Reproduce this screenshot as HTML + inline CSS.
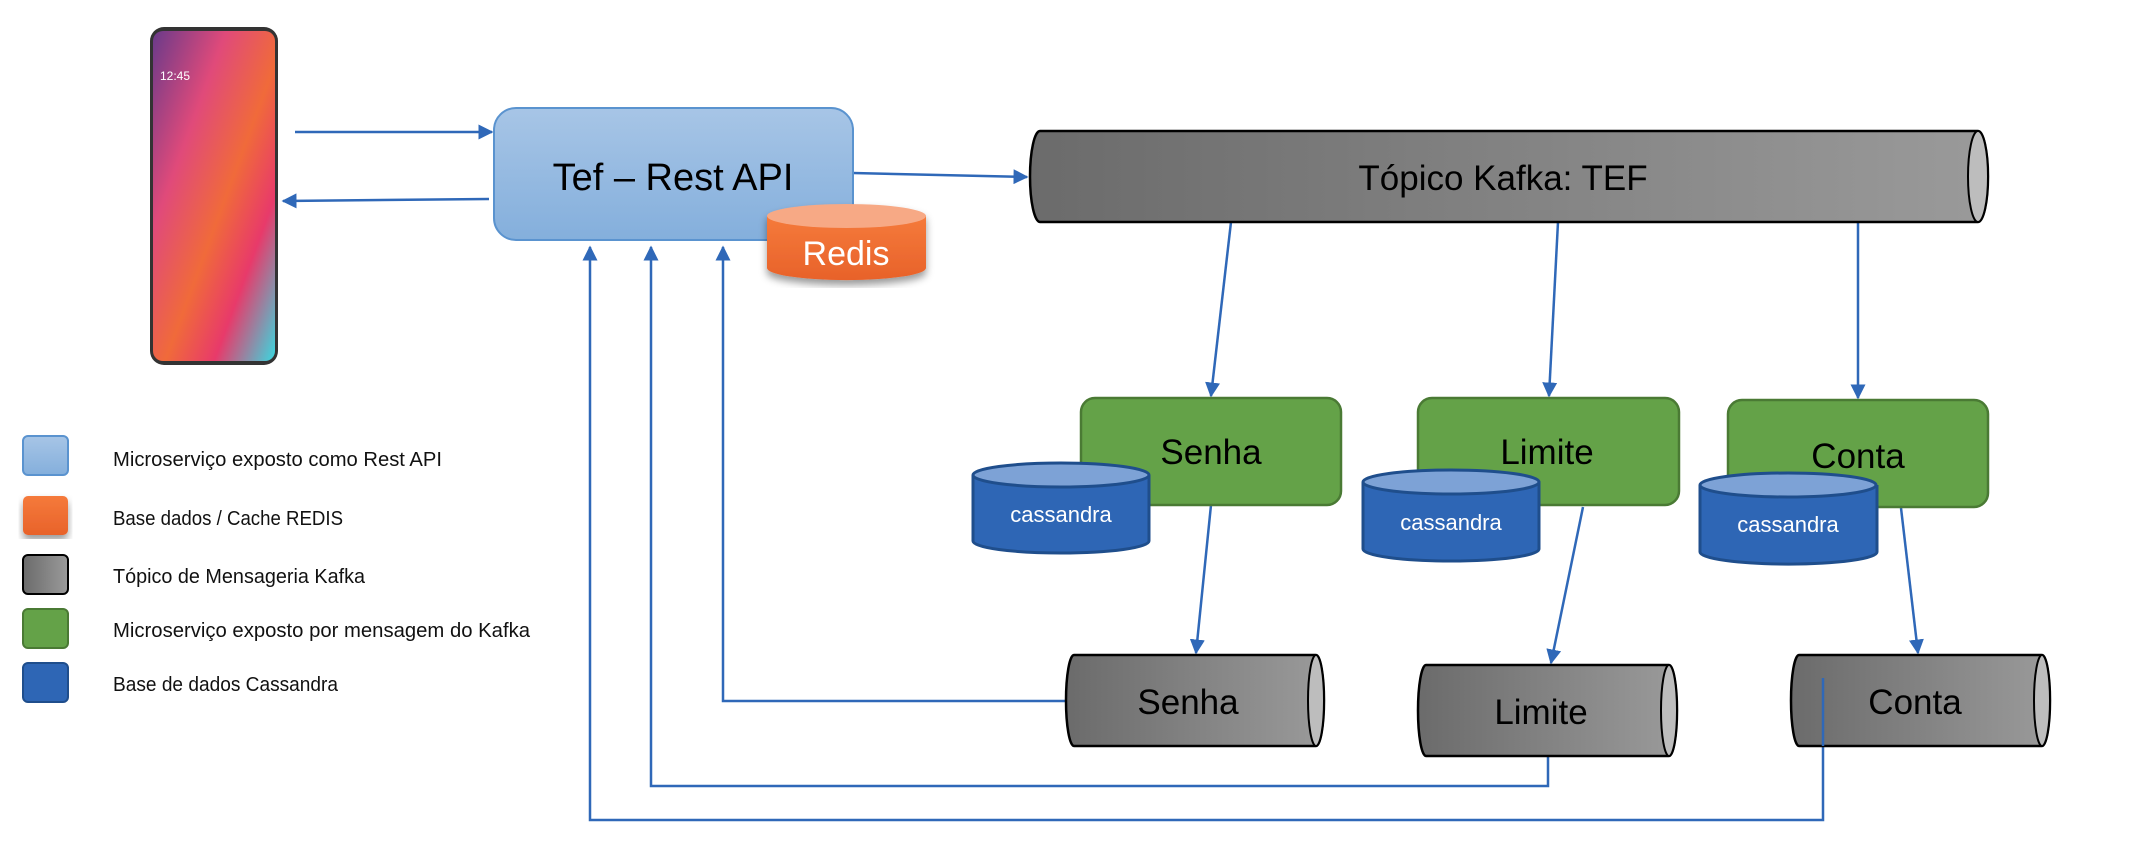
<!DOCTYPE html>
<html><head><meta charset="utf-8"><style>body{margin:0;background:#fff}svg{display:block}</style></head><body>
<svg width="2132" height="856" viewBox="0 0 2132 856" xmlns="http://www.w3.org/2000/svg" font-family="Liberation Sans, sans-serif">
<defs>
<linearGradient id="blue" x1="0" y1="0" x2="0" y2="1"><stop offset="0" stop-color="#a7c5e6"/><stop offset="1" stop-color="#84afdc"/></linearGradient>
<linearGradient id="gray" x1="0" y1="0" x2="1" y2="0"><stop offset="0" stop-color="#6b6b6b"/><stop offset="1" stop-color="#9a9a9a"/></linearGradient>
<linearGradient id="org" x1="0" y1="0" x2="0" y2="1"><stop offset="0" stop-color="#f57a3b"/><stop offset="1" stop-color="#e8622a"/></linearGradient>
<linearGradient id="phone" x1="0" y1="0" x2="1" y2="1"><stop offset="0" stop-color="#6a3a8a"/><stop offset="0.3" stop-color="#e04a7a"/><stop offset="0.55" stop-color="#f06a3a"/><stop offset="0.75" stop-color="#e83a6a"/><stop offset="1" stop-color="#3ad8e0"/></linearGradient>
<marker id="ar" viewBox="0 0 10 10" refX="9" refY="5" markerWidth="6" markerHeight="6" orient="auto"><path d="M0,0 L10,5 L0,10 z" fill="#2f68b8"/></marker>
<filter id="sh"><feDropShadow dx="0" dy="5" stdDeviation="4" flood-opacity="0.4"/></filter>
</defs>
<!-- phone -->
<rect x="150" y="27" width="128" height="338" rx="14" fill="#333"/>
<rect x="153" y="31" width="122" height="330" rx="10" fill="url(#phone)"/>
<text x="160" y="80" font-size="12" fill="#fff">12:45</text>
<g stroke="#2f68b8" stroke-width="2.5" fill="none">
<line x1="295" y1="132" x2="492" y2="132" marker-end="url(#ar)"/>
<line x1="489" y1="199" x2="283" y2="201" marker-end="url(#ar)"/>
<line x1="853" y1="173" x2="1027" y2="177" marker-end="url(#ar)"/>
<line x1="1231" y1="222" x2="1211" y2="396" marker-end="url(#ar)"/>
<line x1="1558" y1="222" x2="1549" y2="396" marker-end="url(#ar)"/>
<line x1="1858" y1="222" x2="1858" y2="398" marker-end="url(#ar)"/>
<line x1="1211" y1="505" x2="1196" y2="653" marker-end="url(#ar)"/>
<line x1="1583" y1="507" x2="1551" y2="663" marker-end="url(#ar)"/>
<line x1="1901" y1="508" x2="1918" y2="653" marker-end="url(#ar)"/>
<polyline points="1066,701 723,701 723,247" marker-end="url(#ar)"/>
<polyline points="1548,756 1548,786 651,786 651,247" marker-end="url(#ar)"/>
<polyline points="1823,678 1823,820 590,820 590,247" marker-end="url(#ar)"/>
</g>
<rect x="494" y="108" width="359" height="132" rx="22" fill="url(#blue)" stroke="#5a93cf" stroke-width="2"/>
<text x="673" y="190" font-size="38" text-anchor="middle">Tef – Rest API</text>
<g filter="url(#sh)">
<path d="M767,216 v52 a79,12 0 0 0 159,0 v-52" fill="url(#org)"/>
<ellipse cx="846.5" cy="216" rx="79.5" ry="12" fill="#f7a985"/>
</g>
<text x="846" y="265" font-size="34" fill="#fff" text-anchor="middle">Redis</text>
<path d="M1040,131 H1978 a10,45.5 0 0 1 0,91 H1040 a10,45.5 0 0 1 0,-91z" fill="url(#gray)" stroke="#000" stroke-width="2.5"/>
<ellipse cx="1978" cy="176.5" rx="10" ry="45.5" fill="#bdbdbd" stroke="#000" stroke-width="2"/>
<text x="1503" y="190" font-size="35" text-anchor="middle">Tópico Kafka: TEF</text>
<g fill="#64a248" stroke="#4a7a34" stroke-width="2.5">
<rect x="1081" y="398" width="260" height="107" rx="14"/>
<rect x="1418" y="398" width="261" height="107" rx="14"/>
<rect x="1728" y="400" width="260" height="107" rx="14"/>
</g>
<g font-size="35" text-anchor="middle">
<text x="1211" y="464">Senha</text>
<text x="1547" y="464">Limite</text>
<text x="1858" y="468">Conta</text>
</g>
<g stroke="#1f4e8c" stroke-width="3">
<path d="M973,475 v66 a88,12 0 0 0 176,0 v-66" fill="#2e66b5"/><ellipse cx="1061" cy="475" rx="88" ry="12" fill="#7da2d6"/>
<path d="M1363,482 v67 a88,12 0 0 0 176,0 v-67" fill="#2e66b5"/><ellipse cx="1451" cy="482" rx="88" ry="12" fill="#7da2d6"/>
<path d="M1700,485 v67 a88,12 0 0 0 177,0 v-67" fill="#2e66b5"/><ellipse cx="1788" cy="485" rx="88" ry="12" fill="#7da2d6"/>
</g>
<g font-size="22" fill="#fff" text-anchor="middle">
<text x="1061" y="522">cassandra</text>
<text x="1451" y="530">cassandra</text>
<text x="1788" y="532">cassandra</text>
</g>
<g stroke="#000" stroke-width="2.5">
<path d="M1074,655 H1316 a8,45.5 0 0 1 0,91 H1074 a8,45.5 0 0 1 0,-91z" fill="url(#gray)"/>
<ellipse cx="1316" cy="700.5" rx="8" ry="45.5" fill="#bdbdbd" stroke-width="2"/>
<path d="M1426,665 H1669 a8,45.5 0 0 1 0,91 H1426 a8,45.5 0 0 1 0,-91z" fill="url(#gray)"/>
<ellipse cx="1669" cy="710.5" rx="8" ry="45.5" fill="#bdbdbd" stroke-width="2"/>
<path d="M1799,655 H2042 a8,45.5 0 0 1 0,91 H1799 a8,45.5 0 0 1 0,-91z" fill="url(#gray)"/>
<ellipse cx="2042" cy="700.5" rx="8" ry="45.5" fill="#bdbdbd" stroke-width="2"/>
</g>
<line x1="1823" y1="678" x2="1823" y2="746" stroke="#2f68b8" stroke-width="2.5"/>
<g font-size="35" text-anchor="middle">
<text x="1188" y="714">Senha</text>
<text x="1541" y="724">Limite</text>
<text x="1915" y="714">Conta</text>
</g>
<rect x="23" y="436" width="45" height="39" rx="5" fill="url(#blue)" stroke="#5a93cf" stroke-width="2"/>
<rect x="23" y="496" width="45" height="39" rx="5" fill="url(#org)" filter="url(#sh)"/>
<rect x="23" y="555" width="45" height="39" rx="5" fill="url(#gray)" stroke="#000" stroke-width="2"/>
<rect x="23" y="609" width="45" height="39" rx="5" fill="#64a248" stroke="#4a7a34" stroke-width="2"/>
<rect x="23" y="663" width="45" height="39" rx="5" fill="#2e66b5" stroke="#1f4e8c" stroke-width="2"/>
<g font-size="20" fill="#111">
<text x="113" y="466" textLength="329" lengthAdjust="spacingAndGlyphs">Microserviço exposto como Rest API</text>
<text x="113" y="525" textLength="230" lengthAdjust="spacingAndGlyphs">Base dados / Cache REDIS</text>
<text x="113" y="583" textLength="252" lengthAdjust="spacingAndGlyphs">Tópico de Mensageria Kafka</text>
<text x="113" y="637" textLength="417" lengthAdjust="spacingAndGlyphs">Microserviço exposto por mensagem do Kafka</text>
<text x="113" y="691" textLength="225" lengthAdjust="spacingAndGlyphs">Base de dados Cassandra</text>
</g>
</svg>
</body></html>
